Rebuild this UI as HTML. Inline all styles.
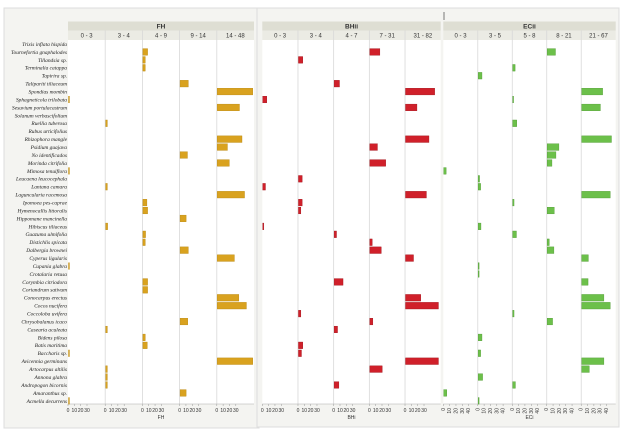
<!DOCTYPE html>
<html><head><meta charset="utf-8"><style>
body{margin:0;background:#fff;}
svg{display:block;font-family:"Liberation Sans",sans-serif;}
.sp{font-family:"Liberation Serif",serif;font-style:italic;font-size:5.4px;fill:#222;}
.hd{font-size:6.5px;font-weight:bold;fill:#333;}
.sh{font-size:6px;fill:#333;}
.tk{font-size:5px;fill:#333;}
</style></head><body>
<svg id="chart" width="624" height="434" viewBox="0 0 624 434" xmlns="http://www.w3.org/2000/svg">
<rect x="4" y="8" width="255" height="420" fill="#f4f4f1" stroke="#ddd"/>
<rect x="257" y="8" width="362" height="419" fill="#f4f4f1" stroke="#ddd"/>
<line x1="444" y1="12" x2="444" y2="20" stroke="#777"/>
<g id="g"></g>
</svg>
<script>
const species=["Trixis inflata hispida","Tournefortia gnaphalodes","Tillandsia sp.","Terminalia catappa","Tapirira sp.","Talipariti tiliaceum","Spondias mombin","Sphagneticola trilobata","Sesuvium portulacastrum","Solanum verbascifolium","Ruellia tuberosa","Rubus urticifolius","Rhizophora mangle","Psidium guajava","No identificados","Morinda citrifolia","Mimosa tenuiflora","Leucaena leucocephala","Lantana camara","Laguncularia racemosa","Ipomoea pes-caprae","Hymenocallis littoralis","Hippomane mancinella","Hibiscus tiliaceus","Guazuma ulmifolia","Distichlis spicata","Dalbergia brownei","Cyperus ligularis","Cupania glabra","Crotalaria retusa","Corymbia citriodora","Coriandrum sativum","Conocarpus erectus","Cocos nucifera","Coccoloba uvifera","Chrysobalanus icaco","Casearia aculeata","Bidens pilosa","Batis maritima","Baccharis sp.","Avicennia germinans","Artocarpus altilis","Annona glabra","Andropogon bicornis","Amaranthus sp.","Acmella decurrens"];
const fhCols=["0 - 3","3 - 4","4 - 9","9 - 14","14 - 48"];
const fhRow=[1,2,3,5,6,7,8,10,12,13,14,15,16,18,19,20,21,22,23,24,25,26,27,28,30,31,32,33,35,36,37,38,39,40,41,42,43,44,45];
const fhCol=[2,2,2,3,4,0,4,1,4,4,3,4,0,1,4,2,2,3,1,2,2,3,4,0,2,2,4,4,3,1,2,2,0,4,1,1,1,3,0];
const fhVal=[7.4,3.7,3.7,13,56,1.5,35,2.6,39,16,11.6,19,1.5,2.6,43,6.3,7.4,9.5,3,4.2,3.7,13,27,1.5,7.4,7.4,34,46,12,2.6,3.7,6.8,1.5,56,2.6,2.6,2.6,9.5,1.5];
const bhCols=["0 - 3","3 - 4","4 - 7","7 - 31","31 - 82"];
const bhRow=[1,2,5,6,7,8,12,13,15,17,18,19,20,21,23,24,25,26,27,30,32,33,34,35,36,38,39,40,41,43];
const bhCol=[3,1,2,4,0,4,4,3,3,1,0,4,1,1,0,2,3,3,4,2,4,4,1,3,2,1,1,4,3,2];
const bhVal=[15.8,6.8,8.4,46,6.3,18,37,12,25,5.8,4.2,33,5.8,3.7,1.6,3.7,3.7,18,12.6,14,24,52,3.7,4.7,5.3,6.8,4.7,52,19.5,7.4];
const ecCols=["0 - 3","3 - 5","5 - 8","8 - 21","21 - 67"];
const ecRow=[1,3,4,6,7,8,10,12,13,14,15,16,17,18,19,20,21,23,24,25,26,27,28,29,30,32,33,34,35,37,39,40,41,42,43,44,45];
const ecCol=[3,2,1,4,2,4,2,4,3,3,3,0,1,1,4,2,3,1,2,3,3,4,1,1,4,4,4,2,3,1,1,4,4,1,2,0,1];
const ecVal=[13,3.7,5.8,33,1,29.5,6.3,47,18.4,13.7,7.4,3.7,2,3.7,45,2,11,4.2,5.8,3.2,10.5,10.5,1,1,10,35,45,2,8.4,5.8,3.7,35,12,6.8,4.2,4.7,1];
const tickVals=[0,10,20,30];
const ecTickVals=[0,10,20,30,40];

const NS="http://www.w3.org/2000/svg",G=document.getElementById('g');
const K=0.633, Y0=44, DY=7.93, TOP=40, BOT=404;
function yRow(i){return Y0+DY*i;}
function mk(t,a,p){const e=document.createElementNS(NS,t);for(const k in a)e.setAttribute(k,a[k]);(p||G).appendChild(e);return e;}
function txt(x,y,s,cls,anchor,p){const e=mk('text',{x:x,y:y,class:cls,'text-anchor':anchor||'middle'},p);e.textContent=s;return e;}

species.forEach((s,i)=>{const t=txt(67,yRow(i)+1.9,s,'sp','end');

});

function panel(name,title,x0,x1,cols,rows,ci,vals,color,stroke,xlab,rotTicks){
  const g=mk('g',{});
  
  
  const w=(x1-x0)/cols.length;
  const bg=mk('rect',{x:x0,y:TOP,width:x1-x0,height:BOT-TOP,fill:'#fff'},g);
  
  
  const h1=mk('rect',{x:x0,y:21.5,width:x1-x0,height:9,fill:'#deded3'},g);
  
  
  const ht=txt((x0+x1)/2,28.3,title,'hd','middle',g);
  
  
  const h2=mk('rect',{x:x0,y:30.5,width:x1-x0,height:9.5,fill:'#ebebe4'},g);
  
  
  cols.forEach((c,j)=>{
    const cx=x0+w*j;
    const st=txt(cx+w/2,37.5,c,'sh','middle',g);
    
    
    if(j>0){const l=mk('line',{x1:cx,y1:30.5,x2:cx,y2:BOT,stroke:'#d8d8d8','stroke-width':0.8},g);
      
      }
    const tv=rotTicks?ecTickVals:tickVals;
    tv.forEach(v=>{const tx=cx+v*K;
      mk('line',{x1:tx,y1:BOT,x2:tx,y2:BOT+2,stroke:'#999','stroke-width':0.5},g);
      if(rotTicks){const t=txt(0,0,String(v),'tk','end',g);t.setAttribute('transform','translate('+(tx+1.5)+','+(BOT+4)+') rotate(-90)');
        
        }
      else{const t=txt(tx,BOT+8,String(v),'tk','middle',g);
        
        }
    });
  });
  mk('line',{x1:x0,y1:BOT,x2:x1,y2:BOT,stroke:'#aaa','stroke-width':0.6},g);
  const xl=txt((x0+x1)/2,BOT+15,xlab,'tk','middle',g);
  
  
  rows.forEach((r,k)=>{
    const b=mk('rect',{x:x0+w*ci[k]+0.5,y:yRow(r)-3.3,width:Math.max(0.8,vals[k]*K),height:6.6,fill:color,stroke:stroke,'stroke-width':0.4},g);
    
    
  });
}
panel('fh','FH',68,254,fhCols,fhRow,fhCol,fhVal,'#d9a21f','#b8860b','FH',false);
panel('bhii','BHii',262.3,440.7,bhCols,bhRow,bhCol,bhVal,'#d0202a','#a01018','BHi',false);
panel('ecii','ECii',443.3,615.7,ecCols,ecRow,ecCol,ecVal,'#6cc04a','#4e9a30','ECi',true);
</script>
</body></html>
